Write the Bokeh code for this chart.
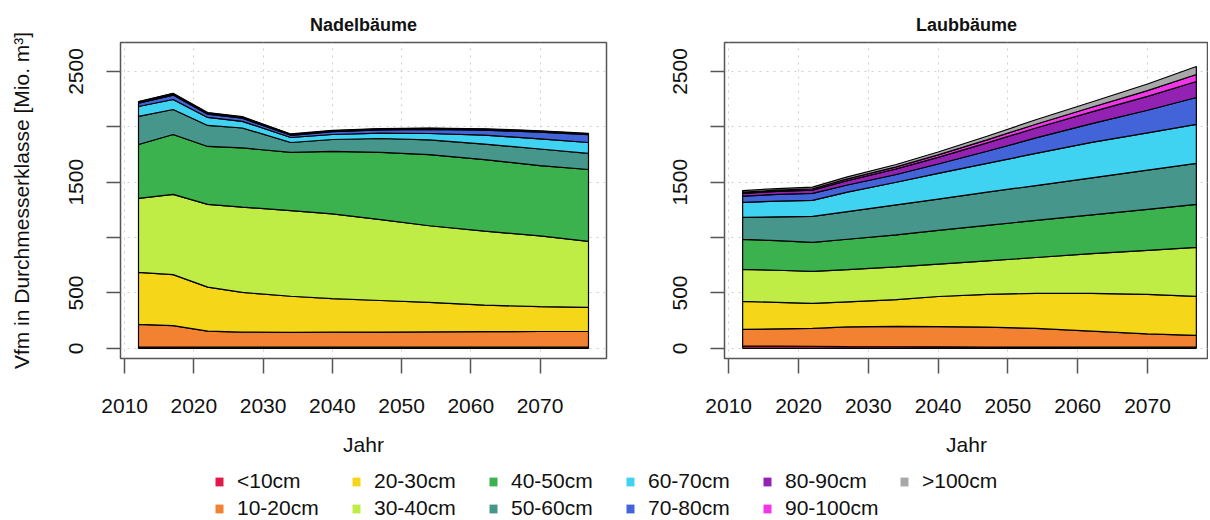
import numpy as np
from bokeh.plotting import figure
from bokeh.layouts import column, row
from bokeh.models import FixedTicker, Legend, LegendItem, Range1d
from bokeh.embed import file_html
from bokeh.resources import INLINE

# ---------------- data ----------------
years = [2012, 2017, 2022, 2027, 2034, 2040, 2047, 2054, 2062, 2070, 2077]
classes = ["<10cm", "10-20cm", "20-30cm", "30-40cm", "40-50cm", "50-60cm",
           "60-70cm", "70-80cm", "80-90cm", "90-100cm", ">100cm"]
colors = ["#E2184A", "#F28131", "#F5D618", "#BFEC45", "#3BB24D", "#46968C",
          "#40D3F1", "#4264D8", "#9322B2", "#F235E8", "#A8A8A8"]

# Nadelbäume (Mio. m³ per diameter class)
nadel_lt10    = [12, 12, 10, 10, 10, 10, 10, 10, 10, 10, 10]
nadel_10_20   = [205, 193, 145, 136, 134, 136, 137, 138, 140, 142, 143]
nadel_20_30   = [469, 460, 398, 359, 326, 302, 285, 267, 240, 225, 217]
nadel_30_40   = [668, 725, 747, 771, 774, 766, 731, 692, 668, 638, 596]
nadel_40_50   = [487, 541, 523, 534, 525, 564, 606, 643, 647, 635, 649]
nadel_50_60   = [253, 226, 190, 180, 90, 108, 126, 132, 140, 150, 145]
nadel_60_70   = [90, 90, 72, 60, 45, 45, 48, 58, 81, 92, 99]
nadel_70_80   = [30, 40, 30, 28, 20, 25, 30, 38, 45, 60, 70]
nadel_80_90   = [8, 10, 8, 8, 6, 6, 6, 6, 6, 6, 6]
nadel_90_100  = [3, 3, 3, 3, 3, 3, 3, 3, 3, 3, 3]
nadel_gt100   = [3, 3, 3, 3, 3, 3, 3, 3, 3, 3, 3]

# Laubbäume
laub_lt10     = [20, 20, 18, 16, 14, 13, 12, 11, 10, 10, 10]
laub_10_20    = [151, 156, 162, 177, 184, 183, 180, 169, 145, 120, 107]
laub_20_30    = [253, 239, 226, 227, 242, 272, 296, 316, 341, 358, 352]
laub_30_40    = [289, 290, 289, 290, 295, 292, 302, 324, 359, 397, 443]
laub_40_50    = [271, 267, 262, 275, 290, 305, 320, 335, 350, 370, 388]
laub_50_60    = [198, 216, 234, 250, 271, 283, 300, 315, 335, 355, 370]
laub_60_70    = [136, 142, 145, 175, 204, 232, 260, 290, 320, 335, 352]
laub_70_80    = [57, 60, 63, 65, 70, 85, 110, 140, 170, 205, 243]
laub_80_90    = [25, 28, 30, 40, 50, 60, 75, 90, 105, 125, 145]
laub_90_100   = [10, 10, 12, 15, 18, 22, 28, 34, 42, 52, 63]
laub_gt100    = [15, 15, 15, 18, 22, 26, 32, 40, 48, 60, 72]

x_ticks = [2010, 2020, 2030, 2040, 2050, 2060, 2070]
y_ticks = [0, 500, 1000, 1500, 2000, 2500]
y_hidden = {1000: "", 2000: ""}

nadel = [nadel_lt10, nadel_10_20, nadel_20_30, nadel_30_40, nadel_40_50, nadel_50_60,
         nadel_60_70, nadel_70_80, nadel_80_90, nadel_90_100, nadel_gt100]
laub = [laub_lt10, laub_10_20, laub_20_30, laub_30_40, laub_40_50, laub_50_60,
        laub_60_70, laub_70_80, laub_80_90, laub_90_100, laub_gt100]

FONT = "Liberation Sans"
TOP_H = 464


def make_panel(title, layers, width, bl, br, x_end, ylabel=None):
    p = figure(width=width, height=TOP_H, output_backend="svg", toolbar_location=None,
               x_range=Range1d(2009.4, x_end), y_range=Range1d(-92, 2762),
               min_border_left=bl, min_border_right=br, min_border_top=42,
               min_border_bottom=TOP_H - 42 - 316)
    p.title.text = title
    p.title.align = "center"
    p.title.text_font = FONT
    p.title.text_font_size = "18px"
    p.title.text_font_style = "bold"
    p.title.text_color = "#111111"
    p.title.standoff = 16

    p.outline_line_color = "#555555"
    p.outline_line_width = 1.5
    p.background_fill_color = "white"
    p.border_fill_color = "white"

    for g, tk in ((p.xgrid, x_ticks), (p.ygrid, y_ticks)):
        g.ticker = FixedTicker(ticks=tk)
        g.grid_line_color = "#cfcfcf"
        g.grid_line_dash = "2 5"
        g.grid_line_width = 1

    xa = p.xaxis[0]
    xa.ticker = FixedTicker(ticks=x_ticks)
    xa.axis_line_color = None
    xa.major_tick_line_color = "#555555"
    xa.major_tick_line_width = 1.5
    xa.major_tick_out = 15
    xa.major_tick_in = 0
    xa.minor_tick_line_color = None
    xa.major_label_text_font = FONT
    xa.major_label_text_font_size = "21px"
    xa.major_label_text_color = "#111111"
    xa.major_label_standoff = 25
    xa.axis_label = "Jahr"
    xa.axis_label_text_font = FONT
    xa.axis_label_text_font_size = "21px"
    xa.axis_label_text_font_style = "normal"
    xa.axis_label_text_color = "#111111"
    xa.axis_label_standoff = 17

    ya = p.yaxis[0]
    ya.ticker = FixedTicker(ticks=y_ticks)
    ya.major_label_overrides = y_hidden
    ya.axis_line_color = None
    ya.major_tick_line_color = "#555555"
    ya.major_tick_line_width = 1.5
    ya.major_tick_out = 14
    ya.major_tick_in = 0
    ya.minor_tick_line_color = None
    ya.major_label_orientation = "vertical"
    ya.major_label_text_font = FONT
    ya.major_label_text_font_size = "21px"
    ya.major_label_text_color = "#111111"
    ya.major_label_standoff = 23
    if ylabel:
        ya.axis_label = ylabel
        ya.axis_label_text_font = FONT
        ya.axis_label_text_font_size = "21px"
        ya.axis_label_text_font_style = "normal"
        ya.axis_label_text_color = "#111111"
        ya.axis_label_standoff = 34

    cum = np.cumsum(np.array(layers, dtype=float), axis=0)
    xs = list(years) + list(years[::-1])
    bottom = np.zeros(len(years))
    for i, top in enumerate(cum):
        ys = list(top) + list(bottom[::-1])
        p.patch(xs, ys, fill_color=colors[i], line_color="black", line_width=1.2)
        bottom = top
    return p


left = make_panel("Nadelbäume", nadel, 614, 120, 8, 2079.6,
                  ylabel="Vfm in Durchmesserklasse [Mio. m³]")
right = make_panel("Laubbäume", laub, 594, 110, 0, 2009.4 + 484 / 6.98)

# ---------------- legend ----------------
leg = figure(width=1208, height=520 - TOP_H, output_backend="svg", toolbar_location=None,
             x_axis_type=None, y_axis_type=None, x_range=Range1d(0, 1), y_range=Range1d(0, 1),
             min_border=0, outline_line_color=None)
leg.xgrid.visible = False
leg.ygrid.visible = False
items = []
for c, lab in zip(colors, classes):
    r = leg.varea(x=[0, 1], y1=[5, 5], y2=[6, 6], fill_color=c)
    items.append(LegendItem(label=lab, renderers=[r]))
legend = Legend(items=items, orientation="vertical", nrows=2, location=(214, 0),
                glyph_width=10, glyph_height=11, label_standoff=13, label_width=111,
                spacing=3, padding=0, margin=0, border_line_color=None,
                background_fill_alpha=0, label_text_font=FONT,
                label_text_font_size="21px", label_text_color="#111111")
leg.add_layout(legend)

layout = column(row(left, right), leg)
open("out.html", "w").write(file_html(layout, INLINE))
